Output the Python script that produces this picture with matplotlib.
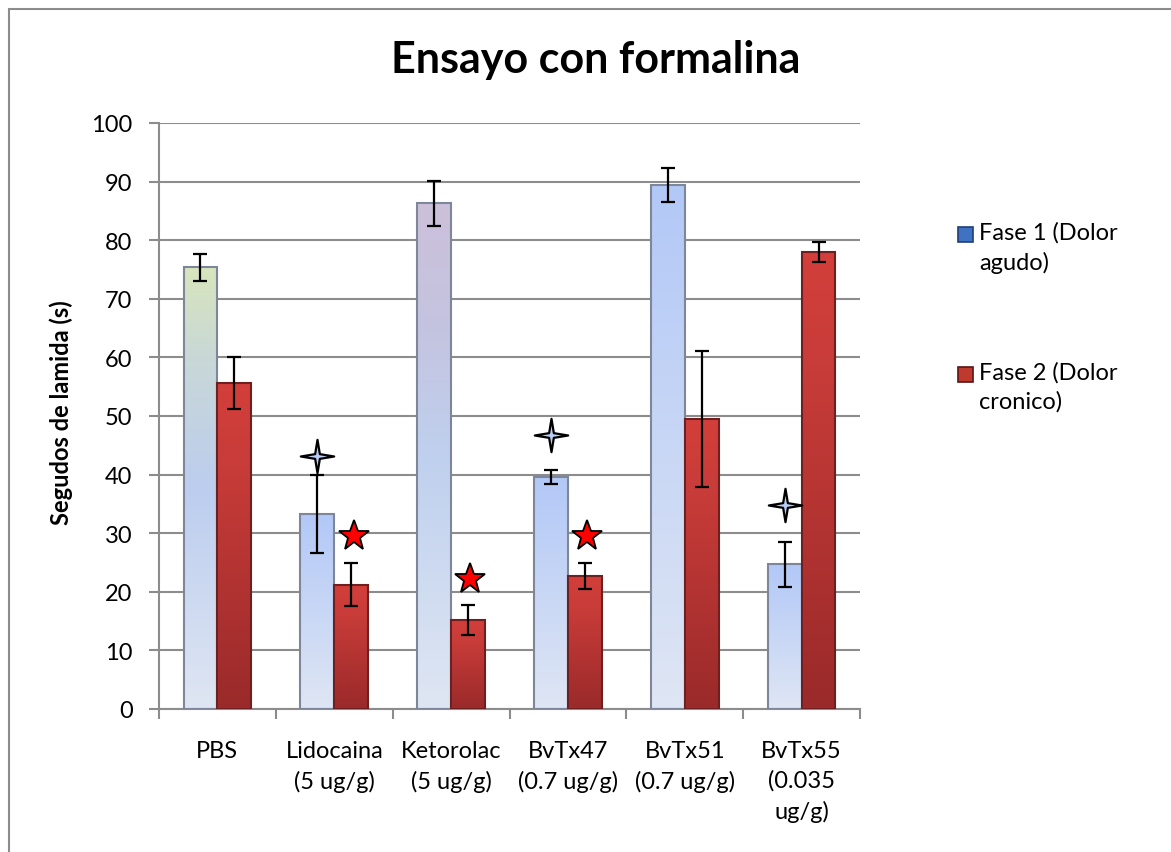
import numpy as np
import matplotlib
matplotlib.use("Agg")
import matplotlib.pyplot as plt
from matplotlib.colors import LinearSegmentedColormap
from matplotlib.patches import Rectangle
from matplotlib.path import Path

# ---------------- data ----------------
categories = ["PBS", "Lidocaina\n(5 ug/g)", "Ketorolac\n(5 ug/g)", "BvTx47\n(0.7 ug/g)",
              "BvTx51\n(0.7 ug/g)", "BvTx55\n(0.035\nug/g)"]
fase1 = [75.4, 33.3, 86.3, 39.6, 89.4, 24.7]
fase1_err = [2.3, 6.6, 3.8, 1.2, 2.9, 3.8]
fase2 = [55.6, 21.2, 15.2, 22.7, 49.5, 78.0]
fase2_err = [4.4, 3.7, 2.6, 2.2, 11.6, 1.7]
series_labels = ["Fase 1 (Dolor\nagudo)", "Fase 2 (Dolor\ncronico)"]
# significance markers: (category index, height)
sig1 = [(1, 43.2), (3, 46.8), (5, 34.8)]
sig2 = [(1, 29.5), (2, 22.2), (3, 29.5)]
yticks = list(range(0, 101, 10))

# ---------------- style ----------------
FONT = "Lato"
plt.rcParams["font.family"] = [FONT, "DejaVu Sans"]
W, H = 1171, 853
fig = plt.figure(figsize=(W / 100, H / 100), dpi=100)

# outer frame
fig.patches.append(Rectangle((9 / W, -0.1), 1.2, 1 - 10 / H + 0.1, transform=fig.transFigure,
                             fill=False, edgecolor="#8c8c8c", linewidth=1.5))

ax = fig.add_axes([159 / W, 1 - 710 / H, (860 - 159) / W, (710 - 124) / H])
x = np.arange(len(categories))
bw = 0.29
off = 0.145

blue_grads = [
    [(0, "#dfe6f3"), (0.5, "#bccdef"), (0.8, "#c9d8d6"), (1, "#d8e5bd")],
    None,
    [(0, "#dfe6f3"), (0.5, "#bfd0ee"), (0.75, "#c4c4e0"), (1, "#ccc0da")],
    None, None, None,
]
blue_default = [(0, "#dfe6f4"), (1, "#b2c8f7")]
red_grad = [(0, "#9a2a2a"), (0.75, "#c83c39"), (1, "#d33f3b")]

ax.set_xlim(-0.5, len(categories) - 0.5)
ax.set_ylim(0, 100)
ax.set_autoscale_on(False)

b1 = ax.bar(x - off, fase1, bw, facecolor="none", edgecolor="#7d8799", linewidth=1.5, zorder=3)
b2 = ax.bar(x + off, fase2, bw, facecolor="none", edgecolor="#6e2020", linewidth=1.5, zorder=3)


def fill_gradient(patch, stops):
    cmap = LinearSegmentedColormap.from_list("g", stops)
    bx, by = patch.get_x(), patch.get_y()
    w, h = patch.get_width(), patch.get_height()
    grad = np.linspace(0, 1, 256).reshape(-1, 1)
    im = ax.imshow(grad, cmap=cmap, origin="lower", aspect="auto",
                   extent=[bx, bx + w, by, by + h], zorder=2, interpolation="bilinear")
    im.set_clip_path(patch)


for i, p in enumerate(b1):
    fill_gradient(p, blue_grads[i] or blue_default)
for p in b2:
    fill_gradient(p, red_grad)

ax.errorbar(x - off, fase1, yerr=fase1_err, fmt="none", ecolor="black", elinewidth=1.6,
            capsize=5, capthick=1.6, zorder=5)
ax.errorbar(x + off, fase2, yerr=fase2_err, fmt="none", ecolor="black", elinewidth=1.6,
            capsize=5, capthick=1.6, zorder=5)

# four-pointed star marker
ang = np.deg2rad(np.arange(0, 360, 45) + 90)
rad = np.array([1, 0.2] * 4)
verts = np.column_stack([rad * np.cos(ang), rad * np.sin(ang)])
verts = np.vstack([verts, verts[:1]])
codes = [Path.MOVETO] + [Path.LINETO] * 7 + [Path.CLOSEPOLY]
star4 = Path(verts, codes)

ax.plot([x[i] - off for i, _ in sig1], [v for _, v in sig1], linestyle="none", marker=star4,
        markersize=24, markerfacecolor="#b9cdf5", markeredgecolor="black", markeredgewidth=1.6, zorder=6)
ax.plot([x[i] + off + 0.02 for i, _ in sig2], [v for _, v in sig2], linestyle="none", marker="*",
        markersize=23, markerfacecolor="#ff0000", markeredgecolor="black", markeredgewidth=1.3, zorder=6)

# axes styling
ax.set_yticks(yticks)
ax.set_yticklabels([str(t) for t in yticks], fontsize=17)
ax.yaxis.grid(True, color="#8c8c8c", linewidth=1.5, zorder=0)
ax.set_axisbelow(True)
for s in ["top", "right"]:
    ax.spines[s].set_visible(False)
for s in ["left", "bottom"]:
    ax.spines[s].set_color("#8c8c8c")
    ax.spines[s].set_linewidth(1.5)
ax.tick_params(axis="y", direction="out", length=7, width=1.5, color="#8c8c8c", pad=12)
ax.set_xticks(x)
ax.set_xticklabels(categories, fontsize=17, linespacing=1.5)
ax.set_xticks(np.arange(-0.5, len(categories), 1.0), minor=True)
ax.tick_params(axis="x", which="major", length=0, pad=22)
ax.tick_params(axis="x", which="minor", direction="out", length=7, width=1.5, color="#8c8c8c")
for lbl in ax.get_xticklabels():
    lbl.set_verticalalignment("top")
ax.set_ylabel("Segudos de lamida (s)", fontsize=17, fontweight="bold", va="center")
ax.yaxis.set_label_coords(61 / W, 1 - 413 / H, transform=fig.transFigure)

fig.text(596 / W, 1 - 60 / H, "Ensayo con formalina", ha="center", va="center",
         fontsize=31, fontweight="bold")

# legend (manual)
leg_colors = [("#3f72c0", "#1f3f77"), ("#c0392f", "#5a1414")]
leg_y = [228, 368]
for (fc, ec), yy, lab in zip(leg_colors, leg_y, series_labels):
    fig.patches.append(Rectangle((958 / W, 1 - (yy + 15) / H), 15 / W, 15 / H,
                                 transform=fig.transFigure, facecolor=fc, edgecolor=ec, linewidth=1.2))
    fig.text(979 / W, 1 - (yy - 6) / H, lab, ha="left", va="top", fontsize=17, linespacing=1.45)

fig.savefig("out.png", dpi=100)
